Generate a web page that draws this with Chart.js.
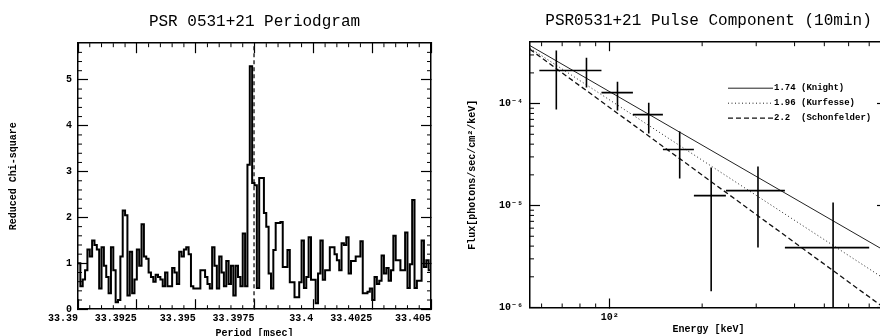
<!DOCTYPE html>
<html><head><meta charset="utf-8">
<script src="https://cdn.jsdelivr.net/npm/chart.js@4.4.1/dist/chart.umd.min.js"></script>
<style>
html,body{margin:0;padding:0;background:#fff;width:880px;height:336px;overflow:hidden;position:relative}
#c1{position:absolute;left:0;top:0}
#c2{position:absolute;left:440px;top:0}
</style></head><body>
<canvas id="c1" width="444" height="345"></canvas>
<canvas id="c2" width="447" height="336"></canvas>
<script>
// ---------- Left panel data: periodogram ----------
const periodEdges = [
33.3900,33.3901,33.3902,33.3903,33.3904,33.3905,33.3906,33.3907,33.3908,33.3909,
33.3910,33.3911,33.3912,33.3913,33.3914,33.3915,33.3916,33.3917,33.3918,33.3919,
33.3920,33.3921,33.3922,33.3923,33.3924,33.3925,33.3926,33.3927,33.3928,33.3929,
33.3930,33.3931,33.3932,33.3933,33.3934,33.3935,33.3936,33.3937,33.3938,33.3939,
33.3940,33.3941,33.3942,33.3943,33.3944,33.3945,33.3946,33.3947,33.3948,33.3949,
33.3950,33.3951,33.3952,33.3953,33.3954,33.3955,33.3956,33.3957,33.3958,33.3959,
33.3960,33.3961,33.3962,33.3963,33.3964,33.3965,33.3966,33.3967,33.3968,33.3969,
33.3970,33.3971,33.3972,33.3973,33.3974,33.3975,33.3976,33.3977,33.3978,33.3979,
33.3980,33.3981,33.3982,33.3983,33.3984,33.3985,33.3986,33.3987,33.3988,33.3989,
33.3990,33.3991,33.3992,33.3993,33.3994,33.3995,33.3996,33.3997,33.3998,33.3999,
33.4000,33.4001,33.4002,33.4003,33.4004,33.4005,33.4006,33.4007,33.4008,33.4009,
33.4010,33.4011,33.4012,33.4013,33.4014,33.4015,33.4016,33.4017,33.4018,33.4019,
33.4020,33.4021,33.4022,33.4023,33.4024,33.4025,33.4026,33.4027,33.4028,33.4029,
33.4030,33.4031,33.4032,33.4033,33.4034,33.4035,33.4036,33.4037,33.4038,33.4039,
33.4040,33.4041,33.4042,33.4043,33.4044,33.4045,33.4046,33.4047,33.4048,33.4049,
33.4050];
const chiSquare = [
1.0,0.5,0.65,0.85,1.3,1.15,1.5,1.4,1.3,0.45,
1.35,0.95,0.7,0.35,1.35,0.85,0.15,0.2,1.15,2.15,
2.05,0.3,1.25,0.35,0.65,1.3,0.95,1.85,1.15,1.1,
0.8,0.7,0.6,0.75,0.7,0.65,0.5,0.8,0.5,0.5,
0.9,0.8,0.55,1.25,1.15,1.3,1.35,1.2,0.5,0.45,
0.45,0.45,0.85,0.85,0.7,0.55,0.45,1.35,0.95,0.45,
1.15,0.8,0.5,1.05,0.55,0.95,0.3,0.95,0.7,0.5,
1.65,0.5,3.15,5.3,2.75,2.7,0.46,2.86,2.86,2.1,
1.8,0.78,0.45,1.29,1.88,1.88,1.9,0.92,0.92,1.29,
0.59,0.59,0.26,0.26,0.59,1.5,0.46,0.7,1.57,0.64,
0.64,0.13,0.78,1.5,0.64,0.85,0.85,1.35,1.35,1.2,
1.07,0.85,1.44,1.4,1.57,0.78,1.05,1.05,1.15,1.15,
1.48,0.35,0.35,0.38,0.45,0.2,0.7,0.55,0.62,1.17,
0.78,0.9,0.62,0.85,1.6,1.07,1.07,0.85,0.85,1.67,
0.46,0.98,2.38,0.46,0.62,0.62,1.5,0.92,1.07,0.85];
const pulsarPeriod = [33.39748, 33.39748];
const pulsarLineY = [0, 5.8];
const periodTicks = [33.39, 33.3925, 33.395, 33.3975, 33.4, 33.4025, 33.405];
const periodTickLabels = ['33.39','33.3925','33.395','33.3975','33.4','33.4025','33.405'];
const chiTicks = [0, 1, 2, 3, 4, 5];
const chiTickLabels = ['0','1','2','3','4','5'];

// ---------- Right panel data: spectrum ----------
const energy   = [67, 84, 106, 134, 169, 214, 304, 534];
const energyLo = [59, 76, 94, 119, 149, 188, 239, 372];
const energyHi = [76, 94, 119, 149, 188, 239, 372, 700];
const flux     = [2.11e-4, 2.11e-4, 1.28e-4, 7.8e-5, 3.54e-5, 1.25e-5, 1.40e-5, 3.87e-6];
const fluxHi   = [3.31e-4, 2.82e-4, 1.64e-4, 1.02e-4, 5.31e-5, 2.36e-5, 2.41e-5, 1.07e-5];
const fluxLo   = [8.73e-5, 1.44e-4, 8.54e-5, 5.08e-5, 1.84e-5, 1.44e-6, 3.87e-6, 5e-7];
const modelLabels = ['1.74 (Knight)', '1.96 (Kurfesse)', '2.2  (Schonfelder)'];
const knightE = [55, 800],  knightF = [3.7e-4, 3.5e-6];
const kurfessE = [55, 800], kurfessF = [3.5e-4, 1.84e-6];
const schonE = [55, 780],   schonF = [3.4e-4, 1.0e-6];
const energyTicks = [100];
const energyTickLabels = ['10\u00B2'];
const energyMinor = [60, 70, 80, 90, 200, 300, 400, 500, 600, 700];
const fluxTicks = [1e-6, 1e-5, 1e-4];
const fluxTickLabels = ['10\u207B\u2076', '10\u207B\u2075', '10\u207B\u2074'];
const fluxMinor = [2e-6,3e-6,4e-6,5e-6,6e-6,7e-6,8e-6,9e-6,2e-5,3e-5,4e-5,5e-5,6e-5,7e-5,8e-5,9e-5,2e-4,3e-4];

// ---------- helpers ----------
Chart.defaults.color = '#000';
Chart.defaults.font.family = "'Liberation Mono', 'DejaVu Sans Mono', monospace";
const MONO = "'Liberation Mono', 'DejaVu Sans Mono', monospace";

const minorTicks = {
  id: 'minorTicks',
  afterDatasetsDraw(chart, args, opts) {
    const {ctx, chartArea: a, scales} = chart;
    const L = opts.len || 4;
    ctx.save();
    ctx.strokeStyle = '#000';
    ctx.lineWidth = 1;
    ctx.beginPath();
    (opts.x || []).forEach(v => {
      const px = scales.x.getPixelForValue(v);
      if (px <= a.left || px >= a.right) return;
      ctx.moveTo(px, a.bottom); ctx.lineTo(px, a.bottom - L);
      ctx.moveTo(px, a.top); ctx.lineTo(px, a.top + L);
    });
    (opts.y || []).forEach(v => {
      const py = scales.y.getPixelForValue(v);
      if (py <= a.top || py >= a.bottom) return;
      ctx.moveTo(a.left, py); ctx.lineTo(a.left + L, py);
      ctx.moveTo(a.right, py); ctx.lineTo(a.right - L, py);
    });
    ctx.stroke();
    ctx.restore();
  }
};

const insideLegend = {
  id: 'insideLegend',
  afterDatasetsDraw(chart, args, opts) {
    if (!opts.display) return;
    const {ctx, chartArea: a} = chart;
    const items = chart.data.datasets.filter(d => d.inLegend);
    ctx.save();
    ctx.font = 'bold 9px ' + MONO;
    ctx.fillStyle = '#000';
    ctx.textBaseline = 'middle';
    ctx.textAlign = 'left';
    items.forEach((d, i) => {
      const y = a.top + opts.top + i * opts.gap;
      const x0 = a.left + opts.left;
      ctx.strokeStyle = d.borderColor;
      ctx.lineWidth = d.borderWidth;
      ctx.setLineDash(d.borderDash || []);
      ctx.beginPath(); ctx.moveTo(x0, y); ctx.lineTo(x0 + opts.lineLen, y); ctx.stroke();
      ctx.setLineDash([]);
      ctx.fillText(d.label, x0 + opts.lineLen + 1, y);
    });
    ctx.restore();
  }
};

function tickFont() { return {family: MONO, size: 10, weight: 'bold'}; }

// ---------- Left chart ----------
const stepData = chiSquare.map((v, i) => ({x: periodEdges[i], y: v}));
stepData.push({x: periodEdges[periodEdges.length - 1], y: chiSquare[chiSquare.length - 1]});

const pMinor = [];
for (let k = 1; k < 30; k++) if (k % 5) pMinor.push(33.39 + k * 0.0005);
const cMinor = [];
for (let k = 1; k < 29; k++) if (k % 5) cMinor.push(k * 0.2);

const borderOpt = {display: true, color: '#000', width: 1.5};

new Chart(document.getElementById('c1'), {
  type: 'line',
  data: {
    datasets: [
      {data: stepData, stepped: 'before', borderColor: '#000', borderWidth: 2,
       pointRadius: 0, fill: false, clip: 0},
      {data: pulsarPeriod.map((p, i) => ({x: p, y: pulsarLineY[i]})), borderColor: '#111',
       borderWidth: 1.3, borderDash: [4, 3], pointRadius: 0, clip: 0}
    ]
  },
  options: {
    responsive: false, animation: false,
    layout: {padding: {left: 0, right: 0, top: 0, bottom: 0}},
    plugins: {
      legend: {display: false}, tooltip: {enabled: false},
      title: {display: true, text: 'PSR 0531+21 Periodgram', fullSize: false,
              font: {family: MONO, size: 16, weight: 'normal'}, color: '#000',
              padding: {top: 12, bottom: 12}},
      minorTicks: {x: pMinor, y: cMinor, len: 4}
    },
    scales: {
      x: {type: 'linear', position: 'bottom', min: 33.39, max: 33.405,
          afterBuildTicks: s => { s.ticks = periodTicks.map(v => ({value: v})); },
          afterFit: s => { s.height = 35.8; },
          ticks: {autoSkip: false, maxRotation: 0, minRotation: 0, align: 'end', padding: 13,
                  font: tickFont(), callback: (v, i) => periodTickLabels[i]},
          grid: {drawOnChartArea: false, drawTicks: true, tickLength: -10, tickColor: '#000', tickWidth: 1.2},
          border: borderOpt,
          title: {display: true, text: 'Period [msec]', font: tickFont(), padding: {top: 0, bottom: 6}}},
      x2: {type: 'linear', position: 'top', min: 33.39, max: 33.405,
          afterBuildTicks: s => { s.ticks = periodTicks.map(v => ({value: v})); },
          afterFit: s => { s.height = 0; },
          ticks: {display: false},
          grid: {drawOnChartArea: false, drawTicks: true, tickLength: -10, tickColor: '#000', tickWidth: 1.2},
          border: borderOpt},
      y: {type: 'linear', position: 'left', min: 0, max: 5.8,
          afterBuildTicks: s => { s.ticks = chiTicks.map(v => ({value: v})); },
          afterFit: s => { s.width = 78; },
          ticks: {autoSkip: false, padding: 16, font: tickFont(), callback: (v, i) => chiTickLabels[i]},
          grid: {drawOnChartArea: false, drawTicks: true, tickLength: -10, tickColor: '#000', tickWidth: 1.2},
          border: borderOpt,
          title: {display: true, text: 'Reduced Chi-square', font: tickFont(), padding: {top: 7, bottom: 0}}},
      y2: {type: 'linear', position: 'right', min: 0, max: 5.8,
          afterBuildTicks: s => { s.ticks = chiTicks.map(v => ({value: v})); },
          afterFit: s => { s.width = 0; },
          ticks: {display: false},
          grid: {drawOnChartArea: false, drawTicks: true, tickLength: -10, tickColor: '#000', tickWidth: 1.2},
          border: borderOpt}
    }
  },
  plugins: [minorTicks]
});

// ---------- Right chart ----------
const errData = [];
energy.forEach((e, i) => {
  errData.push({x: energyLo[i], y: flux[i]}, {x: energyHi[i], y: flux[i]}, {x: energyHi[i], y: null});
  errData.push({x: e, y: fluxLo[i]}, {x: e, y: fluxHi[i]}, {x: e, y: null});
});

new Chart(document.getElementById('c2'), {
  type: 'line',
  data: {
    datasets: [
      {data: errData, borderColor: '#000', borderWidth: 1.6, pointRadius: 0, spanGaps: false, clip: 0},
      {label: modelLabels[0], inLegend: true, data: knightE.map((e, i) => ({x: e, y: knightF[i]})),
       borderColor: '#222', borderWidth: 1, pointRadius: 0, clip: 0},
      {label: modelLabels[1], inLegend: true, data: kurfessE.map((e, i) => ({x: e, y: kurfessF[i]})),
       borderColor: '#222', borderWidth: 1, borderDash: [1, 2.5], pointRadius: 0, clip: 0},
      {label: modelLabels[2], inLegend: true, data: schonE.map((e, i) => ({x: e, y: schonF[i]})),
       borderColor: '#111', borderWidth: 1.3, borderDash: [5, 3], pointRadius: 0, clip: 0}
    ]
  },
  options: {
    responsive: false, animation: false,
    layout: {padding: {left: 0, right: 0, top: 0, bottom: 0}},
    plugins: {
      legend: {display: false}, tooltip: {enabled: false},
      title: {display: true, text: 'PSR0531+21 Pulse Component (10min)', fullSize: false,
              font: {family: MONO, size: 16, weight: 'normal'}, color: '#000',
              padding: {top: 11, bottom: 12}},
      minorTicks: {x: energyMinor, y: fluxMinor, len: 4},
      insideLegend: {display: true, left: 198, top: 46, gap: 15, lineLen: 45}
    },
    scales: {
      x: {type: 'logarithmic', position: 'bottom', min: 55, max: 800,
          afterBuildTicks: s => { s.ticks = energyTicks.map(v => ({value: v})); },
          afterFit: s => { s.height = 28.5; },
          ticks: {autoSkip: false, maxRotation: 0, minRotation: 0, padding: 12.5,
                  font: tickFont(), callback: (v, i) => energyTickLabels[i]},
          grid: {drawOnChartArea: false, drawTicks: true, tickLength: -9, tickColor: '#000', tickWidth: 1.2},
          border: borderOpt,
          title: {display: true, text: 'Energy [keV]', font: tickFont(), padding: {top: 0, bottom: 1}}},
      x2: {type: 'logarithmic', position: 'top', min: 55, max: 800,
          afterBuildTicks: s => { s.ticks = energyTicks.map(v => ({value: v})); },
          afterFit: s => { s.height = 0; },
          ticks: {display: false},
          grid: {drawOnChartArea: false, drawTicks: true, tickLength: -9, tickColor: '#000', tickWidth: 1.2},
          border: borderOpt},
      y: {type: 'logarithmic', position: 'left', min: 1e-6, max: 4e-4,
          afterBuildTicks: s => { s.ticks = fluxTicks.map(v => ({value: v})); },
          afterFit: s => { s.width = 90; },
          ticks: {autoSkip: false, padding: 17, font: tickFont(), callback: (v, i) => fluxTickLabels[i]},
          grid: {drawOnChartArea: false, drawTicks: true, tickLength: -10, tickColor: '#000', tickWidth: 1.2},
          border: borderOpt,
          title: {display: true, text: 'Flux[photons/sec/cm\u00B2/keV]', font: tickFont(), padding: {top: 26, bottom: 0}}},
      y2: {type: 'logarithmic', position: 'right', min: 1e-6, max: 4e-4,
          afterBuildTicks: s => { s.ticks = fluxTicks.map(v => ({value: v})); },
          afterFit: s => { s.width = 0; },
          ticks: {display: false},
          grid: {drawOnChartArea: false, drawTicks: true, tickLength: -10, tickColor: '#000', tickWidth: 1.2},
          border: borderOpt}
    }
  },
  plugins: [minorTicks, insideLegend]
});
</script></body></html>
